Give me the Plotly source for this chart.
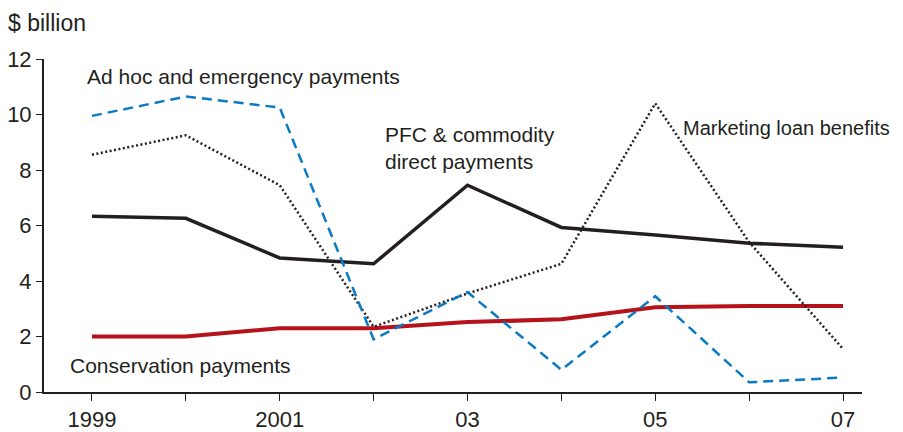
import plotly.graph_objects as go

years = [1999, 2000, 2001, 2002, 2003, 2004, 2005, 2006, 2007]
adhoc = [9.95, 10.65, 10.25, 1.9, 3.6, 0.8, 3.45, 0.35, 0.52]
marketing = [8.55, 9.25, 7.45, 2.35, 3.55, 4.62, 10.4, 5.4, 1.55]
pfc = [6.33, 6.26, 4.83, 4.62, 7.45, 5.93, 5.66, 5.36, 5.22]
conservation = [2.0, 2.0, 2.3, 2.3, 2.52, 2.62, 3.05, 3.1, 3.1]

x_tick_vals = years
x_tick_text = ["1999", "", "2001", "", "03", "", "05", "", "07"]
y_tick_vals = [0, 2, 4, 6, 8, 10, 12]

font_family = "Liberation Sans, Arial, sans-serif"
text_col = "#231f20"

fig = go.Figure()
fig.add_trace(go.Scatter(x=years, y=conservation, mode="lines",
                         line=dict(color="#b5121b", width=4), hoverinfo="skip"))
fig.add_trace(go.Scatter(x=years, y=pfc, mode="lines",
                         line=dict(color="#231f20", width=3.5), hoverinfo="skip"))
fig.add_trace(go.Scatter(x=years, y=marketing, mode="lines",
                         line=dict(color="#231f20", width=2.5, dash="2px,2.5px"), hoverinfo="skip"))
fig.add_trace(go.Scatter(x=years, y=adhoc, mode="lines",
                         line=dict(color="#0a7ac4", width=2.5, dash="10px,6px"), hoverinfo="skip"))

annots = [
    dict(text="Ad hoc and emergency payments", x=1998.925, y=11.37, size=21),
    dict(text="PFC & commodity<br>direct payments", x=2002.1, y=8.78, size=21),
    dict(text="Marketing loan benefits", x=2005.27, y=9.5, size=20),
    dict(text="Conservation payments", x=1998.74, y=0.97, size=21),
]
for a in annots:
    fig.add_annotation(xref="x", yref="y", showarrow=False, x=a["x"], y=a["y"], text=a["text"],
                       xanchor="left", yanchor="middle", align="left",
                       font=dict(size=a["size"], color=text_col, family=font_family))

fig.add_annotation(text="$ billion", xref="paper", yref="paper", x=-0.046, y=1.108,
                   xanchor="left", yanchor="middle", showarrow=False,
                   font=dict(size=23, color=text_col, family=font_family))

fig.update_layout(
    width=895, height=424,
    margin=dict(l=36, r=41, t=51, b=40),
    plot_bgcolor="white", paper_bgcolor="white",
    showlegend=False,
    font=dict(family=font_family, color=text_col, size=20),
)
fig.update_xaxes(range=[1998.489, 2007.202], tickvals=x_tick_vals, ticktext=x_tick_text,
                 automargin=False,
                 showgrid=False, zeroline=False, showline=True, linecolor="#231f20", linewidth=2,
                 ticks="outside", ticklen=7, tickwidth=1.2, tickcolor="#231f20",
                 tickfont=dict(size=22, color=text_col))
fig.update_yaxes(range=[0, 12], tickvals=y_tick_vals,
                 automargin=False,
                 showgrid=False, zeroline=False, showline=True, linecolor="#231f20", linewidth=2,
                 ticks="outside", ticklen=6, tickwidth=1.2, tickcolor="#231f20",
                 tickfont=dict(size=22, color=text_col))

fig.write_html("out.html")
